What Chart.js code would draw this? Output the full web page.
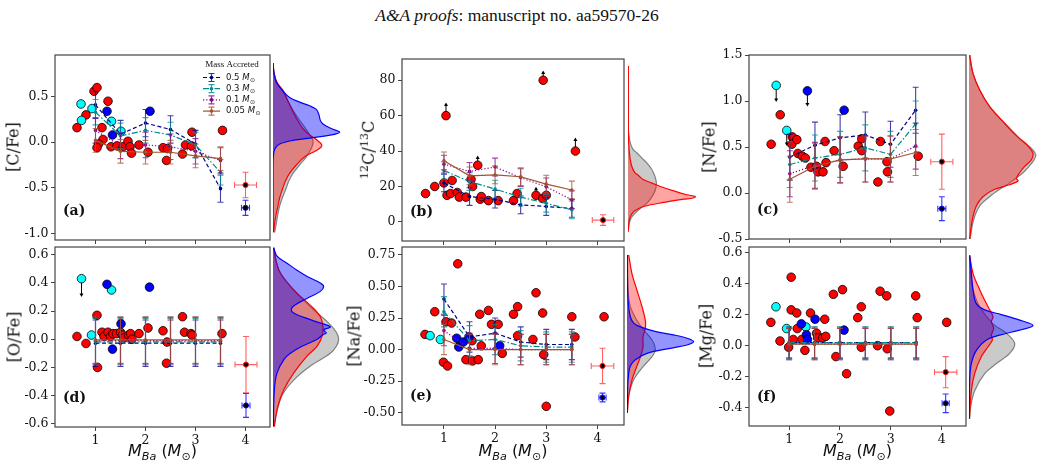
<!DOCTYPE html>
<html>
<head>
<meta charset="utf-8">
<script src="https://cdn.jsdelivr.net/npm/chart.js@4.4.1/dist/chart.umd.min.js"></script>
<style>
  body { margin: 0; background: #fff; width: 1042px; height: 468px; overflow: hidden; position: relative; }
  canvas { position: absolute; }
  .t { position: absolute; white-space: nowrap; color: #111; line-height: 1; }
  #title { left: 0; width: 1034px; top: 5px; text-align: center; font: 17.5px 'Liberation Serif', serif; }
  .yl { font: 16px 'DejaVu Serif', serif; transform: translate(-50%, -50%) rotate(-90deg); }
  .yl sup { font-size: 70%; }
  .xl { font: 16px 'DejaVu Sans', sans-serif; transform: translate(-50%, -50%); }
  .xl sub { font-size: 70%; }
</style>
</head>
<body>
<div id="title" class="t"><i>A&amp;A proofs</i>: manuscript no. aa59570-26</div>
<script>
// shared
const MODEL_X = [1, 1.5, 2, 2.5, 3, 3.5];
const X_TICKS = [1, 2, 3, 4];
const MODELS = [
  { name: '0.5', color: '#00008b', dash: [4, 2.5] },
  { name: '0.3', color: '#008b8b', dash: [6, 2, 1.5, 2] },
  { name: '0.1', color: '#8b008b', dash: [1.2, 2] },
  { name: '0.05', color: '#a0522d', dash: [] },
];

// (a) [C/Fe]
const A_RED = [[0.63,0.16],[0.81,0.30],[0.97,0.56],[1.03,0.60],[1.25,0.45],[1.13,0.16],[1.15,0.03],[1.06,-0.02],[1.03,-0.06],[1.31,-0.05],[1.43,-0.04],[1.55,-0.05],[1.65,0.01],[1.69,-0.05],[1.72,-0.12],[1.87,-0.03],[2.05,-0.11],[2.35,-0.06],[2.42,-0.20],[2.44,-0.07],[2.74,-0.13],[2.80,-0.03],[2.92,-0.04],[2.93,0.11],[3.54,0.13]];
const A_CYAN = [[0.71,0.42],[0.72,0.24],[0.93,0.37],[1.32,0.23],[1.51,0.12]];
const A_BLUE = [[1.23,0.34],[1.34,0.08],[2.09,0.34]];
const A_M05 = [0.41, 0.09, 0.21, 0.14, -0.02, -0.51];
const A_M03 = [0.33, 0.07, 0.13, 0.08, -0.03, -0.33];
const A_M01 = [0.13, -0.04, -0.03, -0.05, -0.10, -0.20];
const A_M005 = [0.02, -0.10, -0.11, -0.11, -0.15, -0.18];
const A_ERR = [0.15, 0.14, 0.14, 0.13];
const A_REP = [[4.0, -0.47, 0.22, 0.14], [4.0, -0.72, 0.08, 0.083]];
const A_YT = [-1.0, -0.5, 0, 0.5];
const A_KDE_BLUE = [[0.87,0],[0.76,0.03],[0.66,0.1],[0.57,0.28],[0.49,0.5],[0.44,0.8],[0.40,1.1],[0.36,1.3],[0.30,1.38],[0.24,1.42],[0.20,1.5],[0.15,1.75],[0.11,2.0],[0.08,1.75],[0.05,1.2],[0.02,0.6],[-0.02,0.2],[-0.07,0.06],[-0.15,0.01],[-0.3,0],[-0.99,0]];
const A_KDE_RED = [[0.87,0],[0.75,0.04],[0.65,0.13],[0.57,0.3],[0.45,0.45],[0.35,0.58],[0.25,0.72],[0.15,0.9],[0.08,1.1],[0.03,1.3],[-0.02,1.45],[-0.05,1.45],[-0.09,1.3],[-0.16,0.95],[-0.25,0.7],[-0.34,0.5],[-0.43,0.37],[-0.52,0.28],[-0.61,0.2],[-0.70,0.15],[-0.80,0.09],[-0.89,0.05],[-0.99,0.02]];
const A_KDE_GRAY = [[0.87,0],[0.75,0.03],[0.65,0.12],[0.57,0.28],[0.45,0.45],[0.35,0.6],[0.25,0.78],[0.15,0.98],[0.07,1.12],[0.02,1.2],[-0.04,1.18],[-0.1,1.1],[-0.16,1.0],[-0.25,0.8],[-0.34,0.6],[-0.43,0.47],[-0.52,0.38],[-0.61,0.28],[-0.70,0.2],[-0.80,0.14],[-0.89,0.1],[-0.99,0.05]];

// (b) 12C/13C
const B_RED = [[0.64,16],[0.82,20],[1.0,22],[1.04,60],[1.06,15],[1.13,16],[1.16,23.4],[1.26,16.6],[1.30,14],[1.43,14],[1.53,24],[1.56,20],[1.66,32],[1.71,12.8],[1.73,14.3],[1.87,12],[2.06,12],[2.36,12],[2.43,16],[2.80,15],[2.93,13.2],[2.94,80],[3.0,15],[3.57,40]];
const B_LIMITS = [[1.04,60,67.5],[1.66,32,37.5],[2.80,15,19.8],[2.94,80,85.5],[3.57,40,47.7]];
const B_M05 = [22, 14.3, 12.8, 9.6, 8.7, 7.6];
const B_M03 = [29, 22.8, 18.5, 14, 10.5, 6.8];
const B_M01 = [32.6, 28.5, 31, 25, 19.8, 12.5];
const B_M005 = [34.5, 26, 26.5, 25.5, 21.3, 18];
const B_ERR = [5, 5, 5, 5];
const B_REP = [[4.11, 1, 0.21, 3]];
const B_YT = [0, 20, 40, 60, 80];
const B_KDE_RED = [[88,0.01],[60,0.01],[45,0.02],[36,0.06],[31,0.12],[28,0.2],[26.6,0.29],[23.8,0.47],[21.9,0.72],[20,0.97],[17.2,1.42],[15.3,1.77],[14.3,2.02],[13.5,1.95],[12.8,1.67],[11,1.07],[8.7,0.47],[7,0.27],[5.8,0.17],[3,0.07],[0,0.03],[-5.5,0.01]];
const B_KDE_GRAY = [[88,0],[55,0.01],[50,0.02],[44.5,0.07],[41,0.15],[38.9,0.27],[36,0.42],[33.2,0.57],[30,0.7],[27.5,0.77],[25,0.82],[22,0.85],[18,0.82],[14.3,0.72],[10.6,0.57],[6.8,0.32],[3,0.12],[0,0.05],[-2.6,0.02],[-5.5,0.01]];

// (c) [N/Fe]
const C_RED = [[0.63,0.53],[0.81,0.85],[1.05,0.61],[1.04,0.53],[1.14,0.58],[1.16,0.43],[1.25,0.40],[1.31,0.38],[1.42,0.28],[1.53,0.29],[1.56,0.23],[1.66,0.23],[1.70,0.56],[1.72,0.33],[1.88,0.46],[2.06,0.29],[2.36,0.51],[2.43,0.59],[2.43,0.46],[2.75,0.12],[2.80,0.56],[2.93,0.34],[2.94,0.23],[3.55,0.40]];
const C_CYAN = [[0.73,1.17],[0.94,0.68]];
const C_BLUE = [[1.35,1.11],[2.08,0.90]];
const C_LIMITS = [[0.73,1.17,0.99],[0.94,0.68,0.51],[1.35,1.11,0.94]];
const C_M05 = [0.39, 0.52, 0.60, 0.63, 0.53, 0.90];
const C_M03 = [0.31, 0.38, 0.42, 0.49, 0.42, 0.75];
const C_M01 = [0.21, 0.30, 0.36, 0.37, 0.37, 0.51];
const C_M005 = [0.15, 0.29, 0.36, 0.37, 0.37, 0.44];
const C_ERR = [0.25, 0.25, 0.25, 0.25];
const C_REP = [[4.02, 0.34, 0.22, 0.30], [4.02, -0.17, 0.08, 0.13]];
const C_YT = [-0.5, 0, 0.5, 1.0, 1.5];
const C_KDE_RED = [[1.5,0.02],[1.3,0.12],[1.12,0.32],[0.94,0.62],[0.76,1.07],[0.61,1.47],[0.51,1.77],[0.43,1.92],[0.36,1.87],[0.29,1.67],[0.22,1.52],[0.16,1.42],[0.13,1.47],[0.09,1.22],[0.04,0.77],[-0.04,0.42],[-0.14,0.22],[-0.29,0.1],[-0.5,0.02]];
const C_KDE_GRAY = [[1.5,0.02],[1.3,0.12],[1.12,0.32],[0.94,0.62],[0.76,1.05],[0.61,1.45],[0.51,1.8],[0.42,2.0],[0.36,1.95],[0.29,1.8],[0.22,1.62],[0.11,1.22],[0.04,0.92],[-0.04,0.62],[-0.14,0.32],[-0.29,0.14],[-0.5,0.03]];

// (d) [O/Fe]
const D_RED = [[0.63,0.02],[0.81,-0.03],[1.03,0.17],[1.04,-0.20],[1.13,0.05],[1.17,0.02],[1.25,0.05],[1.30,0.02],[1.35,0.04],[1.42,0.04],[1.50,0.05],[1.54,0.03],[1.57,0.01],[1.66,0.03],[1.70,0.04],[1.73,0.00],[1.87,0.04],[2.05,0.08],[2.35,0.06],[2.42,-0.17],[2.43,-0.02],[2.74,0.16],[2.78,0.05],[2.91,0.04],[2.93,0.03],[3.53,0.04]];
const D_CYAN = [[0.72,0.43],[0.92,0.03],[1.32,0.35]];
const D_BLUE = [[1.23,0.39],[1.51,0.11],[1.34,-0.07],[2.08,0.37]];
const D_LIMITS = [[0.72,0.43,0.30]];
const D_M05 = [-0.028, -0.028, -0.028, -0.028, -0.028, -0.028];
const D_M03 = [-0.018, -0.018, -0.018, -0.018, -0.018, -0.018];
const D_M01 = [-0.01, -0.01, -0.01, -0.01, -0.01, -0.01];
const D_M005 = [-0.005, -0.005, -0.005, -0.005, -0.005, -0.005];
const D_ERR = [0.165, 0.165, 0.165, 0.165];
const D_REP = [[4.01, -0.18, 0.22, 0.20], [4.01, -0.47, 0.08, 0.085]];
const D_YT = [-0.6, -0.4, -0.2, 0, 0.2, 0.4, 0.6];
const D_KDE_BLUE = [[0.65,0.02],[0.59,0.12],[0.54,0.42],[0.49,0.72],[0.44,1.07],[0.40,1.42],[0.375,1.52],[0.34,1.42],[0.29,1.02],[0.245,0.67],[0.215,0.55],[0.186,0.62],[0.139,1.12],[0.10,1.62],[0.086,1.72],[0.067,1.52],[0.045,1.6],[0.032,1.5],[-0.004,1.3],[-0.05,0.87],[-0.1,0.52],[-0.146,0.32],[-0.24,0.12],[-0.36,0.04],[-0.62,0.01]];
const D_KDE_RED = [[0.65,0.02],[0.55,0.1],[0.47,0.22],[0.35,0.62],[0.23,1.17],[0.16,1.42],[0.09,1.5],[0.02,1.47],[-0.05,1.32],[-0.12,1.02],[-0.24,0.62],[-0.36,0.32],[-0.48,0.14],[-0.62,0.04]];
const D_KDE_GRAY = [[0.65,0.02],[0.55,0.1],[0.47,0.22],[0.35,0.62],[0.23,1.12],[0.115,1.67],[0.05,1.9],[0.0,1.97],[-0.05,1.9],[-0.1,1.72],[-0.19,1.12],[-0.29,0.62],[-0.4,0.27],[-0.55,0.08],[-0.62,0.03]];

// (e) [Na/Fe]
const E_RED = [[0.63,0.12],[0.82,0.30],[0.99,-0.10],[1.07,-0.13],[1.04,0.22],[1.15,0.21],[1.27,0.68],[1.43,-0.08],[1.56,-0.09],[1.67,-0.08],[1.55,0.07],[1.70,0.28],[1.73,0.03],[1.87,0.31],[1.93,0.20],[2.06,0.20],[2.14,-0.03],[2.36,0.28],[2.44,0.34],[2.44,0.11],[2.74,0.08],[2.80,0.45],[2.93,0.29],[2.95,-0.04],[3.0,-0.45],[3.50,0.26],[3.56,0.10],[4.13,0.26]];
const E_CYAN = [[0.73,0.11],[0.93,0.08],[1.33,0.05]];
const E_BLUE = [[1.25,0.09],[1.29,0.02],[1.38,0.06],[1.49,0.10],[2.09,0.03]];
const E_M05 = [0.40, 0.10, 0.13, 0.06, 0.04, 0.04];
const E_M03 = [0.30, 0.07, 0.08, 0.03, 0.02, 0.02];
const E_M01 = [0.15, 0.01, 0.01, 0.00, 0.00, 0.00];
const E_M005 = [0.08, 0.00, 0.00, 0.00, 0.00, 0.00];
const E_ERR = [0.12, 0.12, 0.12, 0.12];
const E_REP = [[4.1, -0.13, 0.22, 0.14], [4.1, -0.38, 0.07, 0.035]];
const E_YT = [-0.5, -0.25, 0, 0.25, 0.5, 0.75];
const E_KDE_BLUE = [[0.75,0.01],[0.45,0.02],[0.34,0.05],[0.26,0.1],[0.21,0.2],[0.18,0.4],[0.14,0.9],[0.116,1.4],[0.09,1.8],[0.063,2.0],[0.036,1.8],[0.01,1.3],[-0.03,0.6],[-0.08,0.25],[-0.13,0.1],[-0.19,0.05],[-0.3,0.02],[-0.5,0.01]];
const E_KDE_RED = [[0.75,0.05],[0.6,0.15],[0.47,0.3],[0.34,0.45],[0.23,0.55],[0.17,0.55],[0.10,0.48],[0.02,0.48],[-0.06,0.4],[-0.13,0.3],[-0.24,0.15],[-0.37,0.05],[-0.5,0.01]];
const E_KDE_GRAY = [[0.75,0.01],[0.45,0.04],[0.34,0.1],[0.23,0.3],[0.155,0.5],[0.076,0.75],[0.0,0.85],[-0.056,0.75],[-0.13,0.5],[-0.24,0.2],[-0.37,0.05],[-0.5,0.01]];

// (f) [Mg/Fe]
const F_RED = [[0.64,0.15],[0.82,0.03],[0.99,-0.01],[1.04,0.44],[1.04,0.23],[1.08,0.04],[1.15,0.21],[1.16,0.11],[1.31,-0.03],[1.25,0.04],[1.42,0.21],[1.54,0.08],[1.56,0.05],[1.66,0.05],[1.70,0.17],[1.72,0.06],[1.87,0.33],[1.92,-0.07],[2.05,0.36],[2.13,-0.18],[2.35,0.18],[2.42,0.25],[2.42,-0.01],[2.74,0.00],[2.79,0.35],[2.92,0.32],[2.93,-0.02],[2.98,-0.42],[3.49,0.32],[3.52,0.18],[4.10,0.15]];
const F_CYAN = [[0.74,0.25],[0.95,0.11],[1.33,0.12]];
const F_BLUE = [[1.24,0.14],[1.34,0.07],[1.36,0.04],[1.51,0.17],[2.08,0.10]];
const F_M05 = [0.02, 0.02, 0.02, 0.02, 0.02, 0.02];
const F_M03 = [0.02, 0.02, 0.02, 0.02, 0.02, 0.02];
const F_M01 = [0.01, 0.01, 0.01, 0.01, 0.01, 0.01];
const F_M005 = [0.01, 0.01, 0.01, 0.01, 0.01, 0.01];
const F_ERR = [0.1, 0.1, 0.1, 0.1];
const F_REP = [[4.08, -0.17, 0.22, 0.10], [4.08, -0.37, 0.07, 0.06]];
const F_YT = [-0.4, -0.2, 0, 0.2, 0.4, 0.6];
const F_KDE_BLUE = [[0.58,0.02],[0.47,0.07],[0.36,0.12],[0.27,0.22],[0.23,0.47],[0.2,0.97],[0.164,1.52],[0.13,1.92],[0.10,1.52],[0.068,0.92],[0.036,0.52],[-0.03,0.22],[-0.115,0.07],[-0.22,0.02],[-0.47,0.01]];
const F_KDE_RED = [[0.58,0.02],[0.465,0.12],[0.36,0.32],[0.25,0.57],[0.186,0.72],[0.154,0.67],[0.11,0.74],[0.068,0.67],[0.036,0.70],[-0.007,0.57],[-0.07,0.37],[-0.18,0.17],[-0.29,0.07],[-0.47,0.01]];
const F_KDE_GRAY = [[0.58,0.01],[0.465,0.05],[0.36,0.12],[0.25,0.32],[0.14,0.72],[0.08,1.12],[0.014,1.37],[-0.05,1.22],[-0.115,0.82],[-0.18,0.47],[-0.29,0.17],[-0.39,0.05],[-0.47,0.02]];

const PANELS = [
  { label: '(a)', ytitle: '[C/Fe]', box: [55, 55, 270, 240], kdeLeft: 273, ylab: [13, 147], bottom: false, legend: true,
    xlim: [0.19, 4.49], ylim: [-1.074, 0.958], yticks: A_YT, dec: 1,
    red: A_RED, cyan: A_CYAN, blue: A_BLUE, models: [A_M05, A_M03, A_M01, A_M005], err: A_ERR, rep: A_REP, limits: [],
    kde: [A_KDE_BLUE, A_KDE_RED, A_KDE_GRAY] },
  { label: '(b)', ytitle: '<sup>12</sup>C/<sup>13</sup>C', box: [402, 59, 624, 241], kdeLeft: 628, ylab: [368, 150], bottom: false,
    xlim: [0.18, 4.52], ylim: [-10.8, 92], yticks: B_YT, dec: 0,
    red: B_RED, cyan: [], blue: [], models: [B_M05, B_M03, B_M01, B_M005], err: B_ERR, rep: B_REP, limits: B_LIMITS,
    kde: [null, B_KDE_RED, B_KDE_GRAY] },
  { label: '(c)', ytitle: '[N/Fe]', box: [749, 55, 966, 239], kdeLeft: 969, ylab: [709, 147], bottom: false,
    xlim: [0.19, 4.5], ylim: [-0.5, 1.5], yticks: C_YT, dec: 1,
    red: C_RED, cyan: C_CYAN, blue: C_BLUE, models: [C_M05, C_M03, C_M01, C_M005], err: C_ERR, rep: C_REP, limits: C_LIMITS,
    kde: [null, C_KDE_RED, C_KDE_GRAY] },
  { label: '(d)', ytitle: '[O/Fe]', box: [55, 247, 270, 427], kdeLeft: 273, ylab: [14, 337], bottom: true,
    xlim: [0.19, 4.49], ylim: [-0.623, 0.655], yticks: D_YT, dec: 1,
    red: D_RED, cyan: D_CYAN, blue: D_BLUE, models: [D_M05, D_M03, D_M01, D_M005], err: D_ERR, rep: D_REP, limits: D_LIMITS,
    kde: [D_KDE_BLUE, D_KDE_RED, D_KDE_GRAY] },
  { label: '(e)', ytitle: '[Na/Fe]', box: [402, 247, 624, 425], kdeLeft: 627, ylab: [354, 336], bottom: true,
    xlim: [0.18, 4.52], ylim: [-0.598, 0.813], yticks: E_YT, dec: 2,
    red: E_RED, cyan: E_CYAN, blue: E_BLUE, models: [E_M05, E_M03, E_M01, E_M005], err: E_ERR, rep: E_REP, limits: [],
    kde: [E_KDE_BLUE, E_KDE_RED, E_KDE_GRAY] },
  { label: '(f)', ytitle: '[Mg/Fe]', box: [749, 247, 966, 426], kdeLeft: 969, ylab: [706, 336], bottom: true,
    xlim: [0.21, 4.48], ylim: [-0.516, 0.634], yticks: F_YT, dec: 1,
    red: F_RED, cyan: F_CYAN, blue: F_BLUE, models: [F_M05, F_M03, F_M01, F_M005], err: F_ERR, rep: F_REP, limits: [],
    kde: [F_KDE_BLUE, F_KDE_RED, F_KDE_GRAY] },
];

const KDE_STYLE = [
  { line: '#0000ff', fill: 'rgba(0,0,255,0.42)' },
  { line: '#ff0000', fill: 'rgba(255,0,0,0.36)' },
  { line: '#808080', fill: 'rgba(128,128,128,0.42)' },
];

// error bars drawn before each dataset so markers sit on top
const errBars = {
  id: 'errBars',
  beforeDatasetDraw(chart, args) {
    const ds = chart.data.datasets[args.index];
    if (!ds.errY && !ds.errX) return;
    const xs = chart.scales.x, ys = chart.scales.y, ctx = chart.ctx;
    ctx.save();
    ctx.strokeStyle = ds.errColor;
    ctx.globalAlpha = ds.errAlpha || 1;
    ctx.lineWidth = 1.1;
    ctx.beginPath();
    ds.data.forEach((p, i) => {
      const px = xs.getPixelForValue(p.x), py = ys.getPixelForValue(p.y);
      const ey = Array.isArray(ds.errY) ? ds.errY[i] : ds.errY;
      const ex = Array.isArray(ds.errX) ? ds.errX[i] : ds.errX;
      if (ey) {
        const t = ys.getPixelForValue(p.y + ey), b = ys.getPixelForValue(p.y - ey);
        ctx.moveTo(px, t); ctx.lineTo(px, b);
        ctx.moveTo(px - 3, t); ctx.lineTo(px + 3, t);
        ctx.moveTo(px - 3, b); ctx.lineTo(px + 3, b);
      }
      if (ex) {
        const l = xs.getPixelForValue(p.x - ex), r = xs.getPixelForValue(p.x + ex);
        ctx.moveTo(l, py); ctx.lineTo(r, py);
        ctx.moveTo(l, py - 3); ctx.lineTo(l, py + 3);
        ctx.moveTo(r, py - 3); ctx.lineTo(r, py + 3);
      }
    });
    ctx.stroke();
    ctx.restore();
  }
};

// upper / lower limit arrows
const limitArrows = {
  id: 'limitArrows',
  beforeDatasetsDraw(chart, args, opts) {
    const items = opts.items || [];
    const xs = chart.scales.x, ys = chart.scales.y, ctx = chart.ctx;
    ctx.save();
    ctx.strokeStyle = '#000'; ctx.fillStyle = '#000'; ctx.lineWidth = 1;
    items.forEach(([x, y, tip]) => {
      const px = xs.getPixelForValue(x), py = ys.getPixelForValue(y), pt = ys.getPixelForValue(tip);
      const dir = Math.sign(pt - py);
      ctx.beginPath(); ctx.moveTo(px, py); ctx.lineTo(px, pt - dir * 2); ctx.stroke();
      ctx.beginPath(); ctx.moveTo(px, pt); ctx.lineTo(px - 2, pt - dir * 3.5); ctx.lineTo(px + 2, pt - dir * 3.5);
      ctx.closePath(); ctx.fill();
    });
    ctx.restore();
  }
};

function drawLegend(ctx, ca) {
  const x0 = ca.right - 67, tx = x0 + 23;
  ctx.fillStyle = '#111';
  ctx.textBaseline = 'middle';
  ctx.textAlign = 'center';
  ctx.font = '9px "Liberation Serif"';
  ctx.fillText('Mass Accreted', ca.right - 38, ca.top + 10);
  ctx.textAlign = 'left';
  MODELS.forEach((m, i) => {
    const y = ca.top + 22.5 + i * 11.2;
    ctx.save();
    ctx.strokeStyle = m.color; ctx.fillStyle = m.color; ctx.lineWidth = 1.2;
    ctx.setLineDash(m.dash);
    ctx.beginPath(); ctx.moveTo(x0, y); ctx.lineTo(x0 + 17, y); ctx.stroke();
    ctx.setLineDash([]);
    ctx.globalAlpha = 0.8;
    const cx = x0 + 8.5;
    ctx.beginPath();
    ctx.moveTo(cx, y - 4); ctx.lineTo(cx, y + 4);
    ctx.moveTo(cx - 3, y - 4); ctx.lineTo(cx + 3, y - 4);
    ctx.moveTo(cx - 3, y + 4); ctx.lineTo(cx + 3, y + 4);
    ctx.stroke();
    ctx.globalAlpha = 1;
    ctx.beginPath(); ctx.arc(cx, y, 1.8, 0, Math.PI * 2); ctx.fill();
    ctx.restore();
    ctx.fillStyle = '#111';
    ctx.font = '8.5px "DejaVu Sans"';
    const s = m.name + ' ';
    ctx.fillText(s, tx, y);
    let w = ctx.measureText(s).width;
    ctx.font = 'italic 8.5px "DejaVu Sans"';
    ctx.fillText('M', tx + w, y);
    w += ctx.measureText('M').width;
    ctx.font = '6px "DejaVu Sans"';
    ctx.fillText('\u2299', tx + w + 0.5, y + 2.5);
  });
}

const frame = {
  id: 'frame',
  afterDraw(chart, args, opts) {
    const { ctx, chartArea: ca } = chart;
    ctx.save();
    ctx.strokeStyle = '#444'; ctx.lineWidth = 1.2;
    ctx.strokeRect(ca.left, ca.top, ca.right - ca.left, ca.bottom - ca.top);
    ctx.fillStyle = '#111';
    ctx.font = 'bold 14px "DejaVu Serif"';
    ctx.textBaseline = 'middle'; ctx.textAlign = 'left';
    ctx.fillText(opts.label, ca.left + 8, ca.bottom - 29);
    if (opts.legend) drawLegend(ctx, ca);
    ctx.restore();
  }
};

const pts = arr => arr.map(([x, y]) => ({ x, y }));

function addCanvas(left, top, w, h) {
  const c = document.createElement('canvas');
  c.width = w; c.height = h;
  c.style.left = left + 'px'; c.style.top = top + 'px';
  c.style.width = w + 'px'; c.style.height = h + 'px';
  document.body.appendChild(c);
  return c;
}

function addText(cls, html, x, y) {
  const d = document.createElement('div');
  d.className = 't ' + cls;
  d.innerHTML = html;
  d.style.left = x + 'px'; d.style.top = y + 'px';
  document.body.appendChild(d);
}

function circles(arr, color, order) {
  return { data: pts(arr), pointRadius: 4.3, pointBackgroundColor: color, pointBorderColor: '#000',
           pointBorderWidth: 0.8, order };
}

function buildPanel(p) {
  const [L, T, R, B] = p.box;
  const YW = 50, PT = 14, PR = 6, XH = p.bottom ? 26 : 12;
  const cv = addCanvas(L - YW, T - PT, R - L + YW + PR, B - T + PT + XH);

  const datasets = [];
  p.models.forEach((vals, k) => {
    const m = MODELS[k];
    datasets.push({
      data: MODEL_X.map((x, i) => ({ x, y: vals[i] })), showLine: true,
      borderColor: m.color, borderDash: m.dash, borderWidth: 1.2,
      pointRadius: 1.8, pointBackgroundColor: m.color, pointBorderWidth: 0,
      errY: p.err[k], errColor: m.color, errAlpha: 0.75, order: 4 - k,
    });
  });
  p.rep.forEach(([x, y, ex, ey], k) => {
    const col = k === 0 ? '#ff2020' : '#1010ff';
    datasets.push({
      data: [{ x, y }], pointRadius: 2.6, pointBackgroundColor: '#000', pointBorderColor: col,
      pointBorderWidth: 1, errX: ex, errY: ey, errColor: col, errAlpha: k === 0 ? 0.7 : 0.85, order: 5,
    });
  });
  datasets.push(circles(p.blue, '#0000ff', 10));
  datasets.push(circles(p.cyan, '#00ffff', 11));
  datasets.push(circles(p.red, '#ff0000', 12));

  const tickFont = { family: 'DejaVu Serif', size: 12.5 };
  new Chart(cv, {
    type: 'scatter',
    data: { datasets },
    options: {
      responsive: false, animation: false, events: [],
      layout: { padding: { top: PT, right: PR, left: 0, bottom: 0 } },
      plugins: {
        legend: { display: false }, tooltip: { enabled: false },
        limitArrows: { items: p.limits },
        frame: { label: p.label, legend: !!p.legend },
      },
      scales: {
        x: {
          type: 'linear', min: p.xlim[0], max: p.xlim[1],
          afterBuildTicks: s => { s.ticks = X_TICKS.map(v => ({ value: v })); },
          afterFit: s => { s.height = XH; },
          ticks: { display: p.bottom, font: tickFont, color: '#111', padding: 2, autoSkip: false, maxRotation: 0,
                   callback: v => String(v) },
          grid: { drawOnChartArea: false, drawTicks: true, tickLength: 4, tickColor: '#444', tickWidth: 1 },
          border: { display: false },
        },
        y: {
          type: 'linear', min: p.ylim[0], max: p.ylim[1],
          afterBuildTicks: s => { s.ticks = p.yticks.map(v => ({ value: v })); },
          afterFit: s => { s.width = YW; },
          ticks: { font: tickFont, color: '#111', padding: 2.5, autoSkip: false, callback: v => v.toFixed(p.dec) },
          grid: { drawOnChartArea: false, drawTicks: true, tickLength: 4, tickColor: '#444', tickWidth: 1 },
          border: { display: false },
        },
      },
    },
    plugins: [errBars, limitArrows, frame],
  });

  // side density
  const kc = addCanvas(p.kdeLeft, T, 75, B - T);
  const kdeSets = [];
  p.kde.forEach((curve, k) => {
    if (!curve) return;
    kdeSets.push({
      data: curve.map(([v, d]) => ({ x: d, y: v })),
      borderColor: KDE_STYLE[k].line, backgroundColor: KDE_STYLE[k].fill,
      borderWidth: 1.2, fill: 'origin', tension: 0.35, pointRadius: 0,
    });
  });
  new Chart(kc, {
    type: 'line',
    data: { datasets: kdeSets },
    options: {
      indexAxis: 'y', responsive: false, animation: false, events: [],
      plugins: { legend: { display: false }, tooltip: { enabled: false } },
      scales: {
        x: { type: 'linear', display: false, min: 0, max: 2.25 },
        y: { type: 'linear', display: false, min: p.ylim[0], max: p.ylim[1] },
      },
    },
  });

  addText('yl', p.ytitle, p.ylab[0], p.ylab[1]);
  if (p.bottom) addText('xl', '<i>M</i><sub><i>Ba</i></sub> (<i>M</i><sub>\u2299</sub>)', (L + R) / 2, 452);
}

PANELS.forEach(buildPanel);
</script>
</body>
</html>
